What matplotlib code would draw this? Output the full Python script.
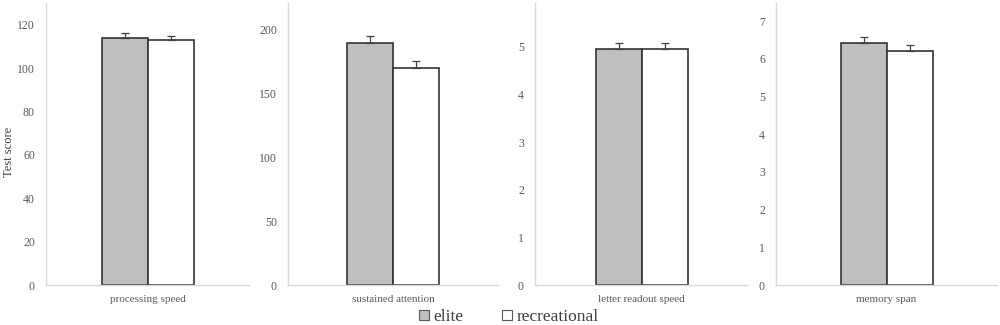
import numpy as np
import matplotlib.pyplot as plt
from matplotlib.patches import Patch

# data
tests = ['processing speed', 'sustained attention', 'letter readout speed', 'memory span']
elite = [114.0, 189.0, 4.95, 6.43]
elite_err = [2.0, 6.0, 0.14, 0.14]
recreational = [113.0, 170.0, 4.96, 6.21]
recreational_err = [1.6, 5.0, 0.13, 0.15]
yticks = [np.arange(0, 121, 20), np.arange(0, 201, 50), np.arange(0, 6, 1), np.arange(0, 8, 1)]
ytops = [130, 220.5, 5.92, 7.48]

# axes boxes in pixels: left, width
boxes = [(46, 203), (288, 210), (535, 213), (776, 221)]

plt.rcParams['font.family'] = ['Liberation Serif', 'DejaVu Serif']

fig = plt.figure(figsize=(10, 3.25), dpi=100)
W, H = 1000, 325
bottom_px, top_px = 285, 3
bar_px = 46

for i, name in enumerate(tests):
    left, width = boxes[i]
    ax = fig.add_axes([left / W, 1 - bottom_px / H, width / W, (bottom_px - top_px) / H])
    w = bar_px / width * 2
    ax.bar(-w / 2, elite[i], width=w, color='#bfbfbf', edgecolor='#333333', linewidth=1.2,
           yerr=[[0], [elite_err[i]]], error_kw=dict(ecolor='#404040', elinewidth=0.9, capsize=3, capthick=0.9))
    ax.bar(w / 2, recreational[i], width=w, color='white', edgecolor='#333333', linewidth=1.2,
           yerr=[[0], [recreational_err[i]]], error_kw=dict(ecolor='#404040', elinewidth=0.9, capsize=3, capthick=0.9))
    ax.set_xlim(-1, 1)
    ax.set_ylim(0, ytops[i])
    ax.set_yticks(yticks[i])
    ax.set_xticks([0])
    ax.set_xticklabels([name], fontsize=8)
    ax.tick_params(length=0, colors='#595959')
    ax.tick_params(axis='y', pad=8, labelsize=8.5)
    ax.tick_params(axis='x', pad=7)
    for s in ['top', 'right']:
        ax.spines[s].set_visible(False)
    for s in ['left', 'bottom']:
        ax.spines[s].set_color('#d9d9d9')
        ax.spines[s].set_linewidth(1.0)

fig.text(0.009, 0.532, 'Test score', rotation=90, ha='center', va='center', fontsize=9, color='#404040')

handles = [Patch(facecolor='#bfbfbf', edgecolor='#595959', linewidth=0.8),
           Patch(facecolor='white', edgecolor='#595959', linewidth=0.8)]
fig.legend(handles, ['elite', 'recreational'], loc='center', bbox_to_anchor=(0.509, 0.025), ncol=2,
           frameon=False, fontsize=12.5, handlelength=0.55, handleheight=0.55, handletextpad=0.3,
           columnspacing=2.2, labelcolor='#404040')

fig.savefig('out.png', dpi=100)
